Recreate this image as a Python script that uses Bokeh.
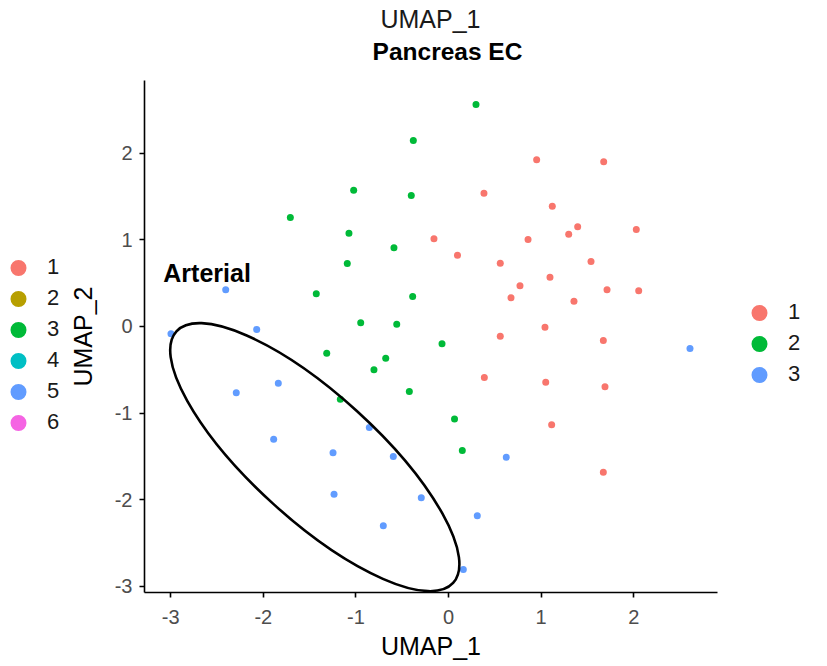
from bokeh.plotting import figure
from bokeh.layouts import row, column
from bokeh.models import Range1d, FixedTicker, Legend, LegendItem, Label
from bokeh.embed import file_html
from bokeh.resources import INLINE

# ---- data ----
c1_x = [-0.157, 0.097, 0.952, 1.676, 0.383, 1.121, 1.395, 1.298, 2.028, 0.859,
        0.559, 1.539, 1.096, 0.772, 1.712, 2.054, 0.675, 1.355, 1.042, 0.559,
        1.672, 0.387, 1.050, 1.690, 1.114, 1.672]
c1_y = [1.013, 0.823, 1.925, 1.902, 1.539, 1.389, 1.151, 1.066, 1.120, 1.005,
        0.731, 0.751, 0.569, 0.470, 0.424, 0.412, 0.331, 0.292, -0.008, -0.112,
        -0.162, -0.589, -0.643, -0.696, -1.135, -1.682]

c2_x = [-0.380, -1.024, -0.402, -1.708, -1.075, -0.589, -1.093, -1.428, -0.387, -0.948,
        -0.559, -0.070, 0.297, -1.315, -0.678, -0.805, -0.423, -1.168, 0.065, 0.149]
c2_y = [2.148, 1.574, 1.513, 1.259, 1.077, 0.909, 0.727, 0.378, 0.346, 0.043,
        0.027, -0.200, 2.563, -0.308, -0.366, -0.500, -0.751, -0.839, -1.068, -1.432]

c3_x = [-2.406, -2.997, -2.071, 2.608, -1.838, -2.292, -0.855, -1.888, -1.247, -0.596,
        -1.236, -0.294, -0.704, 0.311, 0.160, 0.624]
c3_y = [0.424, -0.084, -0.035, -0.254, -0.655, -0.766, -1.166, -1.301, -1.458, -1.501,
        -1.936, -1.978, -2.301, -2.186, -2.806, -1.509]

cluster_labels = ["1", "2", "3"]
cluster_colors = ["#F8766D", "#00BA38", "#619CFF"]

left_legend_labels = ["1", "2", "3", "4", "5", "6"]
left_legend_colors = ["#F8766D", "#B79F00", "#00BA38", "#00BFC4", "#619CFF", "#F564E3"]

x_ticks = [-3, -2, -1, 0, 1, 2]
y_ticks = [-3, -2, -1, 0, 1, 2]

ellipse_center = (-1.444, -1.509)
title_text = "Pancreas EC"
top_text = "UMAP_1"
annotation_text = "Arterial"

FONT = "Liberation Sans"
NAN = float("nan")


def blank(width, height, xr=(0, 1), yr=(0, 1)):
    f = figure(width=width, height=height, output_backend="svg", toolbar_location=None,
               x_range=Range1d(*xr), y_range=Range1d(*yr),
               x_axis_location=None, y_axis_location=None,
               min_border=0)
    f.outline_line_color = None
    f.xgrid.visible = False
    f.ygrid.visible = False
    return f


def make_legend(items, loc):
    return Legend(items=items, location=loc, padding=0, spacing=0, margin=0,
                  glyph_width=20, glyph_height=31, label_standoff=19,
                  label_text_font=FONT, label_text_font_size="22px",
                  label_text_color="#1A1A1A", border_line_color=None,
                  background_fill_alpha=0)


def legend_items(fig, labels, colors):
    items = []
    for lab, col in zip(labels, colors):
        # key-only renderers (a single NaN point: nothing is drawn in the plot area)
        ring = fig.annulus(x=[NAN], y=[NAN], inner_radius=0.1, outer_radius=0.2,
                           fill_color=col, line_color=None)
        pts = fig.scatter([NAN], [NAN], size=7, fill_color=col, line_color=col,
                          line_width=1.6)
        items.append(LegendItem(label=lab, renderers=[ring, pts]))
    return items


# ---- main scatter panel ----
p = figure(width=680, height=586, output_backend="svg", toolbar_location=None,
           x_range=Range1d(-3.283, 2.905), y_range=Range1d(-3.072, 2.841),
           min_border_left=84, min_border_right=23, min_border_top=0,
           min_border_bottom=74)
p.outline_line_color = None
p.xgrid.visible = False
p.ygrid.visible = False

for ax in (p.xaxis[0], p.yaxis[0]):
    ax.axis_line_color = "black"
    ax.axis_line_width = 1.6
    ax.major_tick_line_color = "black"
    ax.major_tick_line_width = 1.6
    ax.major_tick_in = 0
    ax.major_tick_out = 5
    ax.minor_tick_line_color = None
    ax.major_label_text_font = FONT
    ax.major_label_text_font_size = "20px"
    ax.major_label_text_color = "#4D4D4D"
    ax.axis_label_text_font = FONT
    ax.axis_label_text_font_size = "25px"
    ax.axis_label_text_font_style = "normal"
    ax.axis_label_text_color = "black"

p.xaxis.ticker = FixedTicker(ticks=x_ticks)
p.yaxis.ticker = FixedTicker(ticks=y_ticks)
p.xaxis.major_label_overrides = {t: str(t) for t in x_ticks}
p.yaxis.major_label_overrides = {t: str(t) for t in y_ticks}
p.xaxis.axis_label = "UMAP_1"
p.yaxis.axis_label = "UMAP_2"
p.xaxis.major_label_standoff = 12
p.yaxis.major_label_standoff = 7
p.xaxis.axis_label_standoff = 5
p.yaxis.axis_label_standoff = 15

series = [(c1_x, c1_y), (c2_x, c2_y), (c3_x, c3_y)]
for (xs, ys), col in zip(series, cluster_colors):
    p.scatter(xs, ys, size=7, fill_color=col, line_color=None)

p.ellipse(x=[ellipse_center[0]], y=[ellipse_center[1]], width=374, height=125,
          angle=-0.738, width_units="screen", height_units="screen",
          fill_color=None, line_color="black", line_width=2.6)

p.add_layout(Label(x=-3.08, y=0.62, text=annotation_text, text_font=FONT,
                   text_font_size="25px", text_font_style="bold",
                   text_color="black", text_baseline="alphabetic"))

# ---- right legend (clusters 1-3) ----
rf = blank(87, 586)
rf.add_layout(make_legend(legend_items(rf, cluster_labels, cluster_colors),
                          (9, 202.5)))

# ---- left legend (1-6) ----
lf = blank(60, 586)
lf.add_layout(make_legend(legend_items(lf, left_legend_labels, left_legend_colors),
                          (8, 154.5)))

# ---- titles strip (pixel coordinates: x right, y down) ----
tf = blank(827, 80, xr=(0, 827), yr=(80, 0))
tf.add_layout(Label(x=430, y=18.5, text=top_text, text_font=FONT,
                    text_font_size="25px", text_color="#1A1A1A",
                    text_align="center", text_baseline="alphabetic"))
tf.add_layout(Label(x=447, y=51, text=title_text, text_font=FONT,
                    text_font_size="24.5px", text_font_style="bold",
                    text_color="black", text_align="center",
                    text_baseline="alphabetic"))

layout = column(tf, row(lf, p, rf))
open("out.html", "w").write(file_html(layout, INLINE))
